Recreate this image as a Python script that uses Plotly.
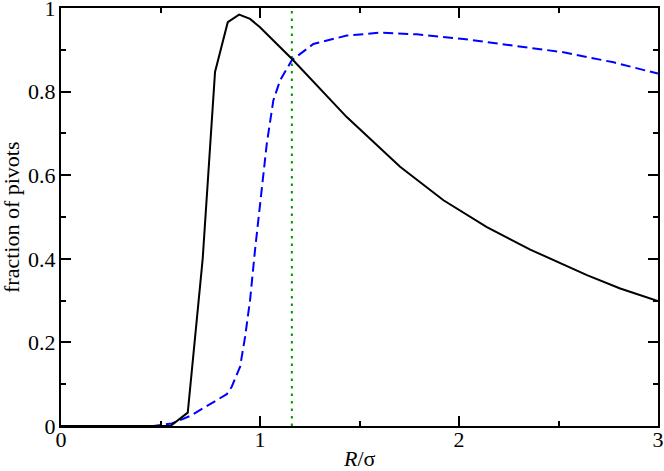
import plotly.graph_objects as go

# black solid curve
x_black = [0.0, 0.55, 0.637, 0.712, 0.774, 0.838, 0.895, 0.950, 1.0, 1.161, 1.436, 1.704,
           1.922, 2.140, 2.358, 2.475, 2.643, 2.810, 3.0]
y_black = [0.0, 0.0, 0.032, 0.40, 0.847, 0.966, 0.984, 0.974, 0.954, 0.878, 0.739, 0.620,
           0.540, 0.476, 0.422, 0.397, 0.361, 0.329, 0.299]

# blue dashed curve
x_blue = [0.0, 0.464, 0.557, 0.649, 0.833, 0.858, 0.900, 0.925, 0.950, 0.975, 1.034, 1.067,
          1.101, 1.160, 1.268, 1.436, 1.604, 1.788, 2.023, 2.525, 2.777, 3.0]
y_blue = [0.0, 0.0, 0.006, 0.024, 0.076, 0.094, 0.142, 0.213, 0.301, 0.421, 0.675, 0.779,
          0.827, 0.875, 0.914, 0.934, 0.941, 0.937, 0.926, 0.894, 0.870, 0.843]

# green dotted vertical line
x_green = [1.16, 1.16]
y_green = [0.0, 1.0]

x_ticks = [0, 1, 2, 3]
x_ticklabels = ["0", "1", "2", "3"]
y_ticks = [0, 0.2, 0.4, 0.6, 0.8, 1.0]
y_ticklabels = ["0", "0.2", "0.4", "0.6", "0.8", "1"]

FONT = "Liberation Serif"

fig = go.Figure()
fig.add_trace(go.Scatter(x=x_green, y=y_green, mode="lines",
                         line=dict(color="#009900", width=2, dash="2.5px,5px"),
                         showlegend=False, hoverinfo="skip"))
fig.add_trace(go.Scatter(x=x_blue, y=y_blue, mode="lines",
                         line=dict(color="#0000ff", width=2, dash="10px,5px"),
                         showlegend=False))
fig.add_trace(go.Scatter(x=x_black, y=y_black, mode="lines",
                         line=dict(color="black", width=2),
                         showlegend=False))

axis_common = dict(
    showgrid=False, zeroline=False, showline=True, linecolor="black", linewidth=2,
    mirror="allticks", ticks="inside", ticklen=10, tickwidth=2, tickcolor="black",
    tickfont=dict(family=FONT, size=22, color="black"), automargin=False,
    ticklabeloverflow="allow",
)

fig.update_xaxes(range=[0, 3], tickmode="array", tickvals=x_ticks, ticktext=x_ticklabels,
                 minor=dict(ticks="inside", ticklen=5, tickwidth=2, tickcolor="black",
                            dtick=0.5, showgrid=False),
                 ticklabelstandoff=-7,
                 **axis_common)
fig.update_yaxes(range=[0, 1], tickmode="array", tickvals=y_ticks, ticktext=y_ticklabels,
                 minor=dict(ticks="inside", ticklen=5, tickwidth=2, tickcolor="black",
                            dtick=0.1, showgrid=False),
                 ticklabelstandoff=-1,
                 **axis_common)

fig.add_annotation(text="<i>R</i>/σ", xref="paper", yref="paper", x=0.5, y=0,
                   yshift=-32, xanchor="center", yanchor="middle", showarrow=False,
                   font=dict(family=FONT, size=22, color="black"))
fig.add_annotation(text="fraction of pivots", xref="paper", yref="paper", x=0, y=0.5,
                   xshift=-50, xanchor="center", yanchor="middle", showarrow=False,
                   textangle=-90, font=dict(family=FONT, size=22, color="black"))

fig.update_layout(
    width=664, height=471,
    margin=dict(l=61, r=6, t=8, b=45),
    plot_bgcolor="white", paper_bgcolor="white",
    font=dict(family=FONT, color="black"),
)

fig.write_html("out.html", config={"displayModeBar": False},
               post_script="document.body.style.margin='0px';")
